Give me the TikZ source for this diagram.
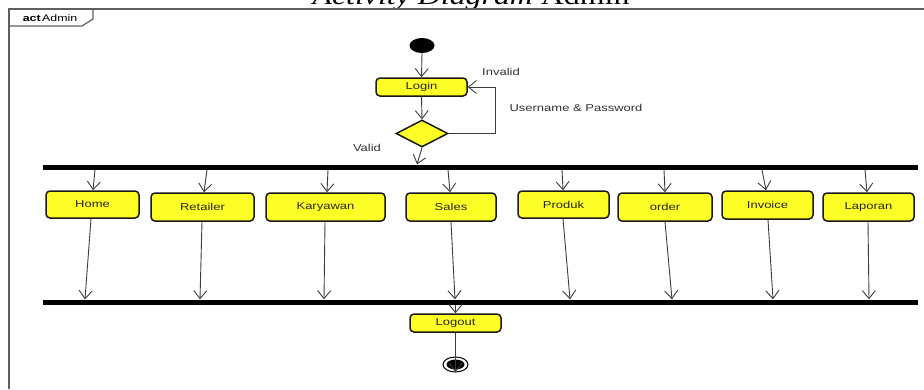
\documentclass[tikz,border=0pt]{standalone}
\usepackage{fontspec}
\newfontfamily\umlfont[FakeStretch=1.3]{Liberation Sans}
\newfontfamily\titlefont[FakeStretch=1.25]{Liberation Serif}
\usetikzlibrary{arrows.meta,shapes.geometric,calc}
\definecolor{actyellow}{RGB}{255,255,40}
\definecolor{framegrey}{RGB}{95,95,95}
\definecolor{flowgrey}{RGB}{60,60,60}
\tikzset{
  action/.style={draw=black!90, line width=1.5pt, fill=actyellow, rounded corners=4pt,
    inner sep=0pt, text=black!85, font=\umlfont\fontsize{10}{12}\selectfont},
  flow/.style={draw=flowgrey, line width=0.9pt,
    -{Straight Barb[length=8pt,width=13pt,line width=0.9pt]}},
  bar/.style={fill=black, draw=none, inner sep=0pt, minimum height=5pt},
  guard/.style={text=black!80, font=\umlfont\fontsize{10}{12}\selectfont, inner sep=0pt},
  framefont/.style={font=\umlfont\fontsize{9.5}{11}\selectfont, inner sep=0pt}
}
\begin{document}
\begin{tikzpicture}[x=1pt,y=-1pt]
\useasboundingbox (0,0) rectangle (924,389);
\clip (0,0) rectangle (924,389);
\fill[white] (0,0) rectangle (924,389);

% heading, partly above the page edge
\node[anchor=base, inner sep=0pt, font=\titlefont\fontsize{25.5}{28}\selectfont] (title) at (471,4)
  {\textit{Activity Diagram} Admin};

% activity frame with its name tab
\draw[framegrey, line width=1.4pt] (9,389) -- (9,9) -- (924,9);
\draw[framegrey, line width=1.2pt] (9,26) -- (82,26) -- (93,19) -- (93,9);
\node[framefont] (frametag) at (50,18) {\textbf{act}\kern1.5pt Admin};

% start, login and credential check
\fill[black] (422,45.5) ellipse [x radius=12.5, y radius=7.5];
\coordinate (init) at (422,45.5);
\node[action, minimum width=91pt, minimum height=18pt] (login) at (421.5,87) {Login};
\node[diamond, draw=black!90, line width=1.5pt, fill=actyellow, inner sep=0pt,
      minimum width=52pt, minimum height=27pt] (check) at (422,133.5) {};
\coordinate (retry) at (495,87);

\draw[flow] ([yshift=-7.5pt]init) -- (login.north);
\draw[flow] (login.south) -- (check.north);
\draw[flow] (check.east) -| (retry) -- (login.east);
\node[guard] (invalid) at (501,72) {Invalid};
\node[guard] (userpass) at (576,108) {Username \& Password};
\node[guard] (valid) at (367,148) {Valid};

% fork and join bars
\node[bar, minimum width=875pt] (fork) at (480.5,167) {};
\node[bar, minimum width=875pt] (join) at (480.5,302) {};
\draw[flow] (check.south) -- (fork.north -| 417,0);

% menu actions
\node[action, minimum width=93pt,  minimum height=27pt] (home)     at (92.5,204.5) {Home};
\node[action, minimum width=103pt, minimum height=28pt] (retailer) at (202.5,207)  {Retailer};
\node[action, minimum width=119pt, minimum height=28pt] (karyawan) at (325.5,207)  {Karyawan};
\node[action, minimum width=90pt,  minimum height=28pt] (sales)    at (451,207)    {Sales};
\node[action, minimum width=91pt,  minimum height=27pt] (produk)   at (563.5,204.5){Produk};
\node[action, minimum width=94pt,  minimum height=28pt] (order)    at (665,207)    {order};
\node[action, minimum width=91pt,  minimum height=28pt] (invoice)  at (767.5,205)  {Invoice};
\node[action, minimum width=91pt,  minimum height=28pt] (laporan)  at (868.5,207)  {Laporan};

% fork to each action
\draw[flow] (fork.south -| 95,0)  -- ([xshift=0.5pt]home.north);
\draw[flow] (fork.south -| 207,0) -- ([xshift=1.5pt]retailer.north);
\draw[flow] (fork.south -| 328,0) -- ([xshift=1.5pt]karyawan.north);
\draw[flow] (fork.south -| 448,0) -- ([xshift=-1pt]sales.north);
\draw[flow] (fork.south -| 562,0) -- ([xshift=-0.5pt]produk.north);
\draw[flow] (fork.south -| 664,0) -- (order.north);
\draw[flow] (fork.south -| 762,0) -- ([xshift=-1.5pt]invoice.north);
\draw[flow] (fork.south -| 865,0) -- ([xshift=-1.5pt]laporan.north);

% each action to join
\draw[flow] ([xshift=-1.5pt]home.south)     -- (join.north -| 85,0);
\draw[flow] ([xshift=-0.5pt]retailer.south) -- (join.north -| 200,0);
\draw[flow] ([xshift=-0.5pt]karyawan.south) -- (join.north -| 324,0);
\draw[flow] (sales.south)                   -- (join.north -| 455,0);
\draw[flow] ([xshift=-0.5pt]produk.south)   -- (join.north -| 570,0);
\draw[flow] (order.south)                   -- (join.north -| 672,0);
\draw[flow] ([xshift=0.5pt]invoice.south)   -- (join.north -| 773,0);
\draw[flow] ([xshift=-0.5pt]laporan.south)  -- (join.north -| 869,0);

% logout and end
\node[action, minimum width=91pt, minimum height=18pt] (logout) at (455.5,323) {Logout};
\coordinate (final) at (455.5,364.5);
\draw[black, line width=1pt, fill=white] (final) ellipse [x radius=12.5, y radius=7.5];
\fill[black] (final) ellipse [x radius=9, y radius=5];

\draw[flow] (join.south -| logout.north) -- (logout.north);
\draw[flow] (logout.south) -- ([yshift=-7.5pt]final);
\end{tikzpicture}
\end{document}
